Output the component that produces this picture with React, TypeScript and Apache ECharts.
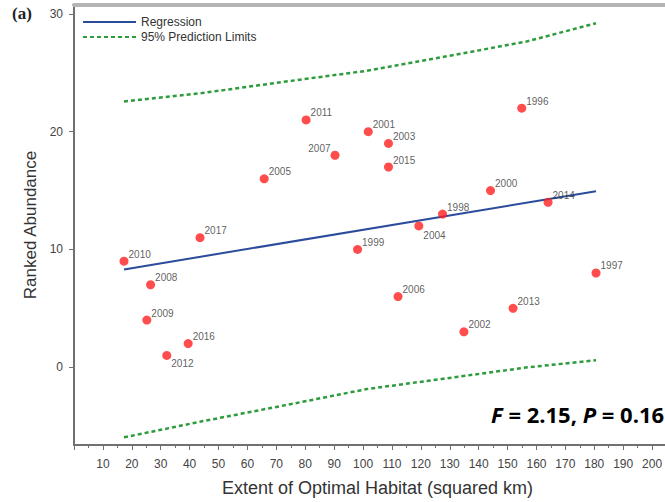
import React, { useEffect, useRef } from "react";
import * as echarts from "echarts";

// Data
const years = ["2010", "2008", "2009", "2016", "2012", "2017", "2005", "2011", "2007", "2001", "2003", "2015", "1999", "2004", "1998", "2000", "2014", "1996", "2006", "2002", "2013", "1997"];
const habitat = [17.3, 26.5, 25.2, 39.5, 32.1, 43.6, 65.8, 80.3, 90.3, 101.8, 108.8, 108.8, 98.1, 119.3, 127.5, 144.1, 164.0, 154.9, 112.1, 134.9, 151.9, 180.6];
const abundance = [9, 7, 4, 2, 1, 11, 16, 21, 18, 20, 19, 17, 10, 12, 13, 15, 14, 22, 6, 3, 5, 8];

const regX = [17.3, 180.6];
const regY = [8.3, 14.95];

const limitX = [17.3, 44.3, 73.3, 101.3, 127.3, 156.4, 180.6];
const upperY = [22.57, 23.28, 24.26, 25.17, 26.33, 27.65, 29.21];
const lowerY = [-5.96, -4.6, -3.22, -1.86, -1.0, -0.03, 0.59];

const yTicks = [0, 10, 20, 30];

const labelBelow: Record<string, number> = { "2004": 10, "2012": 8 };
const labelLeft = new Set(["2007"]);

const FONT = "'Liberation Sans', Arial, sans-serif";

export default function App() {
  const ref = useRef<HTMLDivElement>(null);
  useEffect(() => {
    if (!ref.current) return;
    const chart = echarts.init(ref.current, null, { renderer: "svg" });
    const scatterData = years.map((y, i) => {
      const below = labelBelow[y];
      const left = labelLeft.has(y);
      return {
        name: y,
        value: [habitat[i], abundance[i]],
        label: {
          position: left ? "left" : "right",
          offset: [0, below !== undefined ? below : -7],
        },
      };
    });
    chart.setOption({
      animation: false,
      textStyle: { fontFamily: FONT },
      grid: { left: 74, right: 19, top: 5, bottom: 56, containLabel: false },
      legend: {
        data: ["Regression", "95% Prediction Limits"],
        orient: "vertical",
        left: 77,
        top: 11,
        itemWidth: 53,
        itemHeight: 14,
        itemGap: 3,
        itemStyle: { opacity: 0 },
        textStyle: { fontSize: 12, color: "#333", fontFamily: FONT },
        selectedMode: false,
      },
      xAxis: [
        {
          type: "value",
          min: 0,
          max: 210,
          interval: 10,
          position: "bottom",
          name: "Extent of Optimal Habitat (squared km)",
          nameLocation: "middle",
          nameGap: 34,
          nameTextStyle: { fontSize: 18, color: "#333", fontFamily: FONT },
          axisLine: { show: true, onZero: false, lineStyle: { color: "#707070", width: 2 } },
          axisTick: { show: true, length: 5, lineStyle: { color: "#707070", width: 1 } },
          minorTick: { show: true, splitNumber: 2, length: 3, lineStyle: { color: "#707070", width: 1 } },
          axisLabel: {
            fontSize: 12,
            color: "#444",
            margin: 13,
            formatter: (v: number) => (v === 0 || v === 210 ? "" : String(v)),
          },
          splitLine: { show: false },
        },
        {
          type: "value",
          min: 0,
          max: 210,
          position: "top",
          axisLine: { show: true, onZero: false, lineStyle: { color: "#b4b4b4", width: 4 } },
          axisTick: { show: false },
          axisLabel: { show: false },
          splitLine: { show: false },
        },
      ],
      yAxis: {
        type: "value",
        min: -6.61,
        max: 30.76,
        name: "Ranked Abundance",
        nameLocation: "middle",
        nameGap: 31,
        nameTextStyle: { fontSize: 17, color: "#333", fontFamily: FONT },
        axisLine: { show: true, onZero: false, lineStyle: { color: "#707070", width: 2 } },
        axisTick: { show: true, length: 5, customValues: yTicks, lineStyle: { color: "#707070", width: 1 } },
        axisLabel: { fontSize: 12, color: "#444", margin: 11, customValues: yTicks },
        splitLine: { show: false },
      },
      series: [
        {
          name: "Regression",
          type: "line",
          symbol: "none",
          data: regX.map((x, i) => [x, regY[i]]),
          lineStyle: { color: "#2b4c9b", width: 2 },
          itemStyle: { color: "#2b4c9b" },
          z: 2,
        },
        {
          name: "95% Prediction Limits",
          type: "line",
          symbol: "none",
          data: limitX.map((x, i) => [x, upperY[i]]),
          lineStyle: { color: "#2e9b3c", width: 2.5, type: [4, 3] },
          itemStyle: { color: "#2e9b3c" },
          z: 2,
        },
        {
          name: "95% Prediction Limits",
          type: "line",
          symbol: "none",
          data: limitX.map((x, i) => [x, lowerY[i]]),
          lineStyle: { color: "#2e9b3c", width: 2.5, type: [4, 3] },
          itemStyle: { color: "#2e9b3c" },
          z: 2,
        },
        {
          name: "Years",
          type: "scatter",
          symbol: "circle",
          symbolSize: 9,
          data: scatterData,
          itemStyle: { color: "#ff1f1f" },
          label: {
            show: true,
            formatter: (p: any) => p.name,
            distance: 0,
            fontSize: 10,
            color: "#333",
            fontFamily: FONT,
          },
          z: 5,
        },
      ],
      graphic: [
        {
          type: "text",
          left: 12,
          top: 5,
          style: {
            text: "(a)",
            font: "bold 17px 'Liberation Serif', 'Times New Roman', serif",
            fill: "#222",
          },
        },
        {
          type: "text",
          left: 491,
          top: 403,
          style: {
            text: "{i|F} = 2.15, {i|P} = 0.16",
            font: "bold 22px 'Open Sans', sans-serif",
            fill: "#000",
            rich: {
              i: { fontStyle: "italic", fontWeight: "bold", fontSize: 22, fontFamily: "'Open Sans', sans-serif", fill: "#000" },
            },
          },
        },
      ],
    });
    return () => chart.dispose();
  }, []);
  return (
    <div style={{ position: "fixed", left: 0, top: 0, width: 665, height: 502, overflow: "hidden", background: "#fff" }}>
      <div ref={ref} style={{ width: 700, height: 502 }} />
    </div>
  );
}
